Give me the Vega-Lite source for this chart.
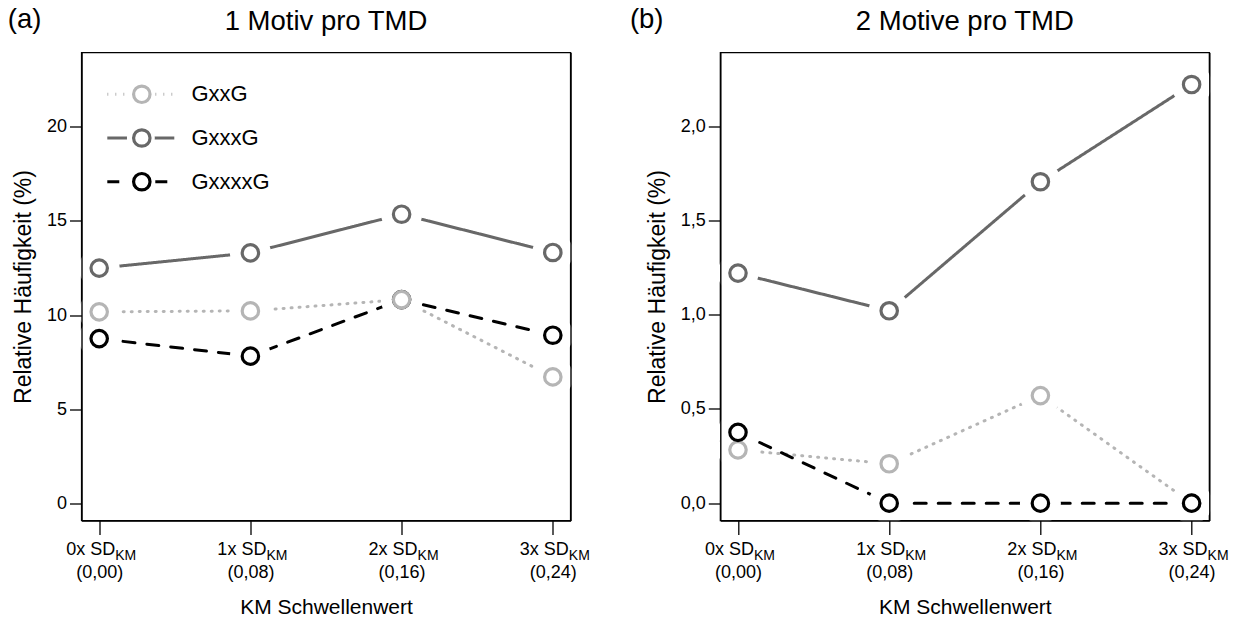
{
  "$schema": "https://vega.github.io/schema/vega-lite/v6.json",
  "background": "white",
  "padding": {"left": 7.5, "top": 5.5, "right": 0, "bottom": 0},
  "spacing": 38.8,
  "config": {
    "font": "Liberation Sans",
    "view": {"stroke": "black", "strokeWidth": 1.4},
    "axis": {"labelFont": "Liberation Sans", "titleFont": "Liberation Sans", "labelColor": "black", "titleColor": "black", "tickColor": "black", "grid": false, "domain": false, "domainColor": "black", "domainWidth": 1.4, "titleFontWeight": "normal", "labelFontSize": 18, "titleFontSize": 21, "tickWidth": 1.3, "labelFlush": false, "labelOverlap": false, "labelBound": false, "minExtent": 0},
    "legend": {"labelFont": "Liberation Sans", "labelColor": "black", "labelFontSize": 22, "padding": 0, "orient": "none", "title": null, "clipHeight": 24, "rowPadding": 19.7, "legendY": 29.8},
    "title": {"font": "Liberation Sans", "fontWeight": "normal", "fontSize": 27.5, "color": "black"}
  },
  "datasets": {
    "a": [
      {"t": 0, "series": "GxxxxG", "value": 8.75},
      {"t": 1, "series": "GxxxxG", "value": 7.82},
      {"t": 2, "series": "GxxxxG", "value": 10.82},
      {"t": 3, "series": "GxxxxG", "value": 8.93},
      {"t": 0, "series": "GxxxG", "value": 12.49},
      {"t": 1, "series": "GxxxG", "value": 13.30},
      {"t": 2, "series": "GxxxG", "value": 15.35},
      {"t": 3, "series": "GxxxG", "value": 13.32},
      {"t": 0, "series": "GxxG", "value": 10.17},
      {"t": 1, "series": "GxxG", "value": 10.22},
      {"t": 2, "series": "GxxG", "value": 10.82},
      {"t": 3, "series": "GxxG", "value": 6.72}
    ],
    "b": [
      {"t": 0, "series": "GxxG", "value": 0.283},
      {"t": 1, "series": "GxxG", "value": 0.209},
      {"t": 2, "series": "GxxG", "value": 0.571},
      {"t": 3, "series": "GxxG", "value": 0.0},
      {"t": 0, "series": "GxxxG", "value": 1.221},
      {"t": 1, "series": "GxxxG", "value": 1.021},
      {"t": 2, "series": "GxxxG", "value": 1.706},
      {"t": 3, "series": "GxxxG", "value": 2.222},
      {"t": 0, "series": "GxxxxG", "value": 0.376},
      {"t": 1, "series": "GxxxxG", "value": 0.0},
      {"t": 2, "series": "GxxxxG", "value": 0.0},
      {"t": 3, "series": "GxxxxG", "value": 0.0}
    ]
  },
  "hconcat": [
    {
      "title": {"text": "(a)", "anchor": "start", "frame": "bounds", "dy": 27, "dx": -4, "offset": 0},
      "vconcat": [
        {
          "width": 489, "height": 468,
          "title": {"text": "1 Motiv pro TMD", "anchor": "middle", "frame": "group", "offset": 17.5},
          "data": {"name": "a"},
          "resolve": {"axis": {"x": "independent", "y": "independent"}},
          "layer": [
            {
              "mark": {"type": "line", "strokeWidth": 3, "strokeCap": "round"},
              "encoding": {
                "x": {"field": "t", "type": "quantitative", "scale": {"domain": [-0.117, 3.117], "nice": false, "zero": false},
                  "axis": {"orient": "bottom", "zindex": 1, "domain": true, "values": [0, 1, 2, 3], "tickSize": 14, "labelPadding": 28.5, "labelExpr": "['(0,00)','(0,08)','(0,16)','(0,24)'][datum.value]", "title": "KM Schwellenwert", "titlePadding": 15}},
                "y": {"field": "value", "type": "quantitative", "scale": {"domain": [-0.9, 23.93], "nice": false, "zero": false},
                  "axis": {"orient": "left", "zindex": 1, "domain": true, "values": [0, 5, 10, 15, 20], "tickSize": 12, "labelPadding": 3, "title": "Relative Häufigkeit (%)", "titleFontSize": 23, "titlePadding": 11}},
                "color": {"field": "series", "type": "nominal", "scale": {"domain": ["GxxG", "GxxxG", "GxxxxG"], "range": ["#b5b5b5", "#686868", "#000000"]},
                  "legend": {"legendX": 24.3, "symbolType": "stroke", "symbolSize": 4489, "symbolStrokeWidth": 3, "labelOffset": 15.7}},
                "strokeDash": {"field": "series", "type": "nominal", "scale": {"domain": ["GxxG", "GxxxG", "GxxxxG"], "range": [[1, 7], [1, 0], [12, 12]]},
                  "legend": {"legendX": 24.3, "symbolType": "stroke", "symbolSize": 4489, "symbolStrokeWidth": 3, "labelOffset": 15.7}}
              }
            },
            {
              "mark": {"type": "point", "shape": "circle", "filled": true, "size": 1681, "opacity": 1, "strokeWidth": 0},
              "encoding": {
                "x": {"field": "t", "type": "quantitative", "scale": {"domain": [-0.117, 3.117], "nice": false, "zero": false},
                  "axis": {"orient": "bottom", "values": [0, 1, 2, 3], "tickSize": 14, "tickOpacity": 0, "labelPadding": 6.4, "labelAlign": "right", "labelOffset": 15.5, "labelExpr": "datum.value + 'x SD'", "title": null}},
                "y": {"field": "value", "type": "quantitative", "scale": {"domain": [-0.9, 23.93], "nice": false, "zero": false},
                  "axis": {"orient": "right", "zindex": 1, "domain": true, "ticks": false, "labels": false, "title": null, "minExtent": 0}},
                "fill": {"field": "series", "type": "nominal", "scale": {"domain": ["GxxxxG", "GxxxG", "GxxG"], "range": ["white", "white", "white"]},
                  "legend": {"legendX": 45.3, "symbolType": "circle", "symbolSize": 784, "symbolStrokeWidth": 0, "labelExpr": "''"}}
              }
            },
            {
              "mark": {"type": "point", "shape": "circle", "filled": false, "fill": "white", "size": 270, "strokeWidth": 3.2, "opacity": 1},
              "encoding": {
                "x": {"field": "t", "type": "quantitative", "scale": {"domain": [-0.117, 3.117], "nice": false, "zero": false},
                  "axis": {"orient": "bottom", "values": [0, 1, 2, 3], "tickSize": 14, "tickOpacity": 0, "labelPadding": 13.9, "labelAlign": "left", "labelOffset": 15.5, "labelFontSize": 14, "labelExpr": "'KM'", "title": null}},
                "y": {"field": "value", "type": "quantitative", "scale": {"domain": [-0.9, 23.93], "nice": false, "zero": false}, "axis": null},
                "stroke": {"field": "series", "type": "nominal", "scale": {"range": ["#b5b5b5", "#686868", "#000000"]},
                  "legend": {"legendX": 49.3, "symbolType": "circle", "symbolSize": 270, "symbolStrokeWidth": 3.2, "symbolFillColor": "white", "labelExpr": "''"}}
              }
            }
          ]
        }
      ]
    },
    {
      "title": {"text": "(b)", "anchor": "start", "frame": "bounds", "dy": 27, "dx": -15.7, "offset": 0},
      "vconcat": [
        {
          "width": 489, "height": 468,
          "title": {"text": "2 Motive pro TMD", "anchor": "middle", "frame": "group", "offset": 17.5},
          "data": {"name": "b"},
          "resolve": {"axis": {"x": "independent", "y": "independent"}},
          "layer": [
            {
              "mark": {"type": "line", "strokeWidth": 3, "strokeCap": "round"},
              "encoding": {
                "x": {"field": "t", "type": "quantitative", "scale": {"domain": [-0.117, 3.117], "nice": false, "zero": false},
                  "axis": {"orient": "bottom", "zindex": 1, "domain": true, "values": [0, 1, 2, 3], "tickSize": 14, "labelPadding": 28.5, "labelExpr": "['(0,00)','(0,08)','(0,16)','(0,24)'][datum.value]", "title": "KM Schwellenwert", "titlePadding": 15}},
                "y": {"field": "value", "type": "quantitative", "scale": {"domain": [-0.092, 2.392], "nice": false, "zero": false},
                  "axis": {"orient": "left", "zindex": 1, "domain": true, "values": [0, 0.5, 1, 1.5, 2], "tickSize": 12, "labelPadding": 3, "labelExpr": "replace(format(datum.value, '.1f'), '.', ',')", "title": "Relative Häufigkeit (%)", "titleFontSize": 23, "titlePadding": 11}},
                "color": {"field": "series", "type": "nominal", "scale": {"domain": ["GxxG", "GxxxG", "GxxxxG"], "range": ["#b5b5b5", "#686868", "#000000"]},
                  "legend": {"legendX": 24.3, "symbolType": "stroke", "symbolSize": 4489, "symbolStrokeWidth": 3, "labelOffset": 15.7}},
                "strokeDash": {"field": "series", "type": "nominal", "scale": {"domain": ["GxxG", "GxxxG", "GxxxxG"], "range": [[1, 7], [1, 0], [12, 12]]},
                  "legend": {"legendX": 24.3, "symbolType": "stroke", "symbolSize": 4489, "symbolStrokeWidth": 3, "labelOffset": 15.7}}
              }
            },
            {
              "mark": {"type": "point", "shape": "circle", "filled": true, "size": 1681, "opacity": 1, "strokeWidth": 0},
              "encoding": {
                "x": {"field": "t", "type": "quantitative", "scale": {"domain": [-0.117, 3.117], "nice": false, "zero": false},
                  "axis": {"orient": "bottom", "values": [0, 1, 2, 3], "tickSize": 14, "tickOpacity": 0, "labelPadding": 6.4, "labelAlign": "right", "labelOffset": 15.5, "labelExpr": "datum.value + 'x SD'", "title": null}},
                "y": {"field": "value", "type": "quantitative", "scale": {"domain": [-0.092, 2.392], "nice": false, "zero": false},
                  "axis": {"orient": "right", "zindex": 1, "domain": true, "ticks": false, "labels": false, "title": null, "minExtent": 0}},
                "fill": {"field": "series", "type": "nominal", "scale": {"domain": ["GxxxxG", "GxxxG", "GxxG"], "range": ["white", "white", "white"]},
                  "legend": {"legendX": 45.3, "symbolType": "circle", "symbolSize": 784, "symbolStrokeWidth": 0, "labelExpr": "''"}}
              }
            },
            {
              "mark": {"type": "point", "shape": "circle", "filled": false, "fill": "white", "size": 270, "strokeWidth": 3.2, "opacity": 1},
              "encoding": {
                "x": {"field": "t", "type": "quantitative", "scale": {"domain": [-0.117, 3.117], "nice": false, "zero": false},
                  "axis": {"orient": "bottom", "values": [0, 1, 2, 3], "tickSize": 14, "tickOpacity": 0, "labelPadding": 13.9, "labelAlign": "left", "labelOffset": 15.5, "labelFontSize": 14, "labelExpr": "'KM'", "title": null}},
                "y": {"field": "value", "type": "quantitative", "scale": {"domain": [-0.092, 2.392], "nice": false, "zero": false}, "axis": null},
                "stroke": {"field": "series", "type": "nominal", "scale": {"range": ["#b5b5b5", "#686868", "#000000"]},
                  "legend": {"legendX": 49.3, "symbolType": "circle", "symbolSize": 270, "symbolStrokeWidth": 3.2, "symbolFillColor": "white", "labelExpr": "''"}}
              }
            }
          ]
        }
      ]
    }
  ]
}
